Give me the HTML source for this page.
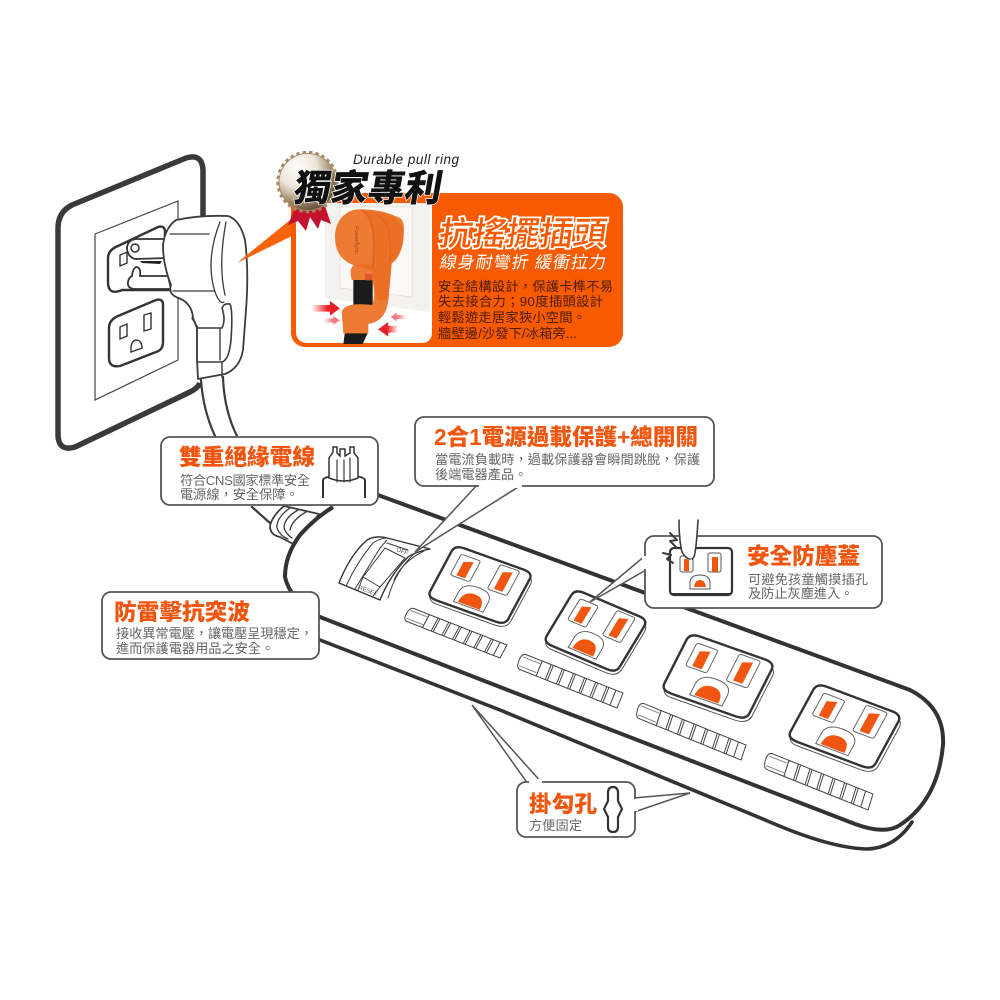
<!DOCTYPE html>
<html lang="zh-Hant">
<head>
<meta charset="utf-8">
<title>抗搖擺插頭 延長線</title>
<style>
html,body{margin:0;padding:0;background:#fff}
svg{display:block}
text{font-family:"Liberation Sans","Noto Sans CJK TC",sans-serif}
.h{font-weight:900;fill:#f0560f;font-size:22.700px}
.d{fill:#666;font-size:13.200px}
.l{fill:none;stroke:#3c3c3c;stroke-linecap:round;stroke-linejoin:round}
.box{fill:#fff;stroke:#555;stroke-width:1.800}
.n{vector-effect:non-scaling-stroke}
</style>
</head>
<body>
<svg width="1000" height="1000" viewBox="0 0 1000 1000" xmlns="http://www.w3.org/2000/svg">
<defs>
<radialGradient id="bd" cx="32%" cy="25%" r="85%">
<stop offset="0" stop-color="#fff"/><stop offset=".4" stop-color="#ece6da"/><stop offset=".72" stop-color="#a08663"/><stop offset="1" stop-color="#4a3a2a"/>
</radialGradient>
<linearGradient id="ar" x1="0" x2="1" y1="0" y2="0"><stop offset="0" stop-color="#ee2a2a" stop-opacity="0"/><stop offset=".55" stop-color="#e8202a"/></linearGradient>
<linearGradient id="al" x1="1" x2="0" y1="0" y2="0"><stop offset="0" stop-color="#ee2a2a" stop-opacity="0"/><stop offset=".55" stop-color="#e8202a"/></linearGradient>
<g id="sock">
<path class="n" d="M14,6 L88,6 Q104,6 104,20 L104,90 Q104,106 88,106 L14,106 Q2,106 2,90 L2,20 Q2,6 14,6Z" fill="#fff" stroke="#555" stroke-width="1"/>
<path class="n" d="M12,0 L88,0 Q100,0 100,12 L100,88 Q100,100 88,100 L12,100 Q0,100 0,88 L0,12 Q0,0 12,0Z" fill="#fff" stroke="#333" stroke-width="2.400"/>
<g fill="#fff" stroke="#666" stroke-width="1">
<rect class="n" x="12" y="11" width="25" height="40" rx="3"/>
<rect class="n" x="60" y="5" width="25" height="47" rx="3"/>
<path class="n" d="M31,92 V74 Q31,55 50,55 Q69,55 69,74 V92Z"/>
</g>
<polygon points="19,22 30,17 30,48 19,48" fill="#f0560f"/>
<polygon points="67,16 78,11 78,48 67,48" fill="#f0560f"/>
<path d="M36,90 Q36,68 50,68 Q64,68 64,90Z" fill="#f0560f"/>
</g>
<g id="bar" fill="#fff" stroke="#444" stroke-width="1">
<path class="n" d="M4,0 L20,0 L20,10 L4,10 Q0,10 0,5 Q0,0 4,0Z"/>
<path class="n" d="M20,0 L100,0 L100,10 L20,10Z"/>
<path class="n" d="M2,2 L19,2M2,8 L19,8" stroke="#888" fill="none"/>
<path class="n" d="M29,0V10M31,0V10M40,0V10M42,0V10M51,0V10M53,0V10M62,0V10M64,0V10M73,0V10M75,0V10M84,0V10M86,0V10M93,0V10" fill="none"/>
</g>
</defs>

<!-- wall plate -->
<path d="M203,216 L203,170 Q202,153 186,158 L72,205 Q58,212 58,228 L58,434 Q58,452 75,447 L190,392 Q198,388 200,383" fill="#fff" stroke="#3a3a3a" stroke-width="5.500" stroke-linejoin="round"/>
<polygon points="95,234 178,201 178,360 95,400" fill="#fff" stroke="#444" stroke-width="1.200"/>
<!-- outlets -->
<path d="M118,246 L158,227 Q165,225 165,232 L165,240 L175,290 L122,290 Q108,296 108,282 L108,258 Q108,250 118,246Z" fill="#fff" stroke="#333" stroke-width="2.400"/>
<path d="M118,316 L156,300 Q163,298 163,305 L163,342 Q163,350 156,352 L120,366 Q109,368 109,358 L109,328 Q109,320 118,316Z" fill="#fff" stroke="#333" stroke-width="2.400"/>
<polygon points="120,327 127,324 127,336 120,339" fill="#fff" stroke="#333" stroke-width="1.400"/>
<polygon points="144,315 151,313 151,329 144,331" fill="#fff" stroke="#333" stroke-width="1.400"/>
<path d="M131,352 V347 Q132,340 137,340 Q142,341 142,348 L131,352Z" fill="#fff" stroke="#333" stroke-width="1.400"/>
<polygon points="120,255 127,252 127,263 120,266" fill="#fff" stroke="#333" stroke-width="1.400"/>
<!-- prongs -->
<path d="M170,239 L136,239 Q127,240 127,249 Q128,257 135,259 L168,258" fill="#fff" stroke="#333" stroke-width="1.800"/>
<circle cx="135" cy="248" r="4" fill="#fff" stroke="#333" stroke-width="1.500"/>
<path d="M140,261 L162,261 L160,264 L142,263Z" fill="#222"/>
<path d="M132,276 Q133,267 137,267 Q141,268 140,276 L168,276 L171,289 L134,289 Q127,288 128,282 Q129,277 132,276Z" fill="#fff" stroke="#333" stroke-width="1.800"/>
<!-- cable -->
<path d="M201,378 Q203,410 215,436 L238,436 Q224,410 223,375Z" fill="#fff"/>
<path class="l" stroke-width="2.200" d="M201,380 Q203,410 215,436M223,377 Q224,410 237,436"/>
<!-- plug -->
<path d="M163,245 Q165,228 176,220 Q200,215 228,216 Q240,220 245,240 Q249,270 246,310 L243,350 Q240,368 225,374 L198,379 L197,360 L197,328 L193,318 Q192,302 176,297 Q168,293 171,285 Q163,265 163,245Z" fill="#fff" stroke="#3c3c3c" stroke-width="1.800" stroke-linejoin="round"/>
<path class="l" stroke-width="1.300" d="M170,234 H209M173,291 H215M220,222 Q205,260 215,292 Q220,305 224,302M226,222 Q218,265 225,295"/>
<path class="l" stroke-width="1.600" d="M192,318 L198,328 L222,328 Q226,320 222,308 Q224,303 230,304 Q233,310 231,340 Q229,360 222,362 L197,362"/>
<path class="l" stroke-width="1.400" d="M197,328 V360M220,328 V360M222,362 V377"/>

<!-- orange pointer -->
<polygon points="237,263 290,220 294,235" fill="#f8620a"/>
<!-- orange panel -->
<rect x="291" y="193" width="332" height="154" rx="14" fill="#f85a00"/>
<path d="M296,205 H432 V332 Q432,343 421,343 H308 Q296,343 296,331Z" fill="#fff"/>
<polygon points="325,203 430,203 430,312 325,298" fill="#f3f2ef"/>
<polygon points="340,207 412,207 412,297 340,288" fill="#faf9f7" stroke="#e2e0dc" stroke-width=".8"/>
<!-- photo plug -->
<g transform="translate(290,200) scale(.3333)">
<polygon points="190,235 248,235 248,320 190,320" fill="#1b1b1b"/>
<polygon points="165,395 235,395 218,432 160,432" fill="#1b1b1b"/>
<path d="M135,110 C135,60 170,25 215,28 C250,28 290,35 320,50 C340,55 345,70 340,120 C335,170 305,185 305,190 L295,300 C290,345 270,365 235,372 L235,400 L160,400 L155,335 C165,312 195,310 245,315 C258,300 250,250 247,240 L185,240 C180,215 180,210 190,195 C150,180 135,150 135,110Z" fill="#ee7a33"/>
<path d="M215,30 C248,45 254,100 250,190 L190,195 L245,210 L250,240 L262,300 L295,300 L305,190 C335,175 340,120 340,90 C335,60 300,42 270,38Z" fill="#e96c22" opacity=".75"/>
<path d="M215,30 C250,50 256,110 248,205" fill="none" stroke="#d9601c" stroke-width="4"/>
<path d="M262,45 C300,65 305,120 300,190" fill="none" stroke="#d9601c" stroke-width="3" opacity=".6"/>
<rect x="225" y="222" width="22" height="20" fill="#d8452a" opacity=".7"/>
<polygon points="65,315 120,315 120,303 150,325 120,347 120,335 65,335" fill="url(#ar)"/>
<polygon points="100,355 130,355 130,348 150,361 130,374 130,367 100,367" fill="url(#ar)" opacity=".6"/>
<polygon points="325,378 295,378 295,366 264,388 295,410 295,398 325,398" fill="url(#al)"/>
<polygon points="348,345 320,345 320,338 302,351 320,364 320,357 348,357" fill="url(#al)" opacity=".6"/>
</g>
<text transform="translate(355,226) rotate(90)" font-size="5.500" fill="#a8461a">PowerSync</text>

<!-- badge -->
<polygon points="295,208 290,220 288,225 298,221 306,231 310,217 318,229 321,220 331,224 325,206" fill="#c4122f"/>
<circle cx="307.500" cy="182" r="29.500" fill="none" stroke="#a58a66" stroke-width="3.400" stroke-dasharray="3.300 3.080"/>
<circle cx="307.500" cy="182" r="28.500" fill="url(#bd)" stroke="#a58a66" stroke-width="1"/>
<text transform="translate(292,201) skewX(-10)" font-size="37" font-weight="900" fill="#111" stroke="#fff" stroke-width="1.400" paint-order="stroke" textLength="148">獨家專利</text>
<text x="353" y="164" font-size="13.500" font-style="italic" fill="#222" textLength="106">Durable pull ring</text>

<text transform="translate(438,245) skewX(-8)" font-size="33" font-weight="500" fill="#f85a00" stroke="#fff" stroke-width="3.600" paint-order="stroke" textLength="167">抗搖擺插頭</text>
<text transform="translate(439,268) skewX(-10)" font-size="17" fill="#fff" textLength="166">線身耐彎折 緩衝拉力</text>
<g font-size="13.300" fill="#4d1c00">
<text x="438" y="291" textLength="175">安全結構設計，保護卡榫不易</text>
<text x="438" y="306" textLength="165">失去接合力；90度插頭設計</text>
<text x="438" y="322" textLength="148">輕鬆遊走居家狹小空間。</text>
<text x="438" y="338" textLength="139">牆壁邊/沙發下/冰箱旁...</text>
</g>

<!-- strip lower shell -->
<path d="M320,640 L500,710 L770,822 Q830,848 867,849 Q895,848 912,822" fill="none" stroke="#333" stroke-width="3.600" stroke-linecap="round"/>
<!-- cord sleeve -->
<path class="l" stroke-width="2.200" d="M252,507 L270,523"/>
<path d="M319,514 L284,506 Q272,516 270,526 Q270,535 280,537 L295,545Z" fill="#fff" stroke="#3c3c3c" stroke-width="1.800" stroke-linejoin="round"/>
<path class="l" stroke-width="1.300" d="M290,508 Q276,518 277,528 Q280,536 288,539M298,510 Q284,518 284,528 Q286,534 292,538M306,512 Q292,520 290,530"/>
<!-- strip body -->
<path d="M378,495 L910,690 Q945,708 943,745 Q938,800 900,825 Q885,835 855,824 L500,687 L320,617 Q290,600 285,577 Q285,555 300,535 Q315,518 333,507" fill="#fff" stroke="#333" stroke-width="4" stroke-linejoin="round"/>

<!-- switch -->
<path d="M339,583 Q350,555 367,540 Q376,535 387,538 L430,549 Q415,552 408,557 Q390,575 380,600Z" fill="#fff" stroke="#333" stroke-width="1.400" stroke-linejoin="round"/>
<path class="l" stroke-width="1" d="M346,586 Q357,562 373,543 Q380,538 387,538M355,589 L380,548 L387,540M385,548 L405,558 L380,587 L363,577Z M363,577 L358,590M380,587 L373,596M415,553 Q396,570 388,598M424,551 Q402,562 394,580M387,543 L408,550"/>
<text transform="translate(396,551) rotate(20)" font-size="6" fill="#555">OFF</text>
<text transform="translate(358,589) rotate(20)" font-size="6" fill="#555">RESET</text>

<!-- sockets -->
<use href="#sock" transform="matrix(.78,.28,-.28,.52,455,545)"/>
<use href="#sock" transform="matrix(.73,.31,-.32,.53,575,589)"/>
<use href="#sock" transform="matrix(.85,.30,-.29,.57,690,633)"/>
<use href="#sock" transform="matrix(.85,.32,-.30,.55,817,683)"/>
<!-- bars -->
<use href="#bar" transform="matrix(.97,.38,-.7,1.300,410,607)"/>
<use href="#bar" transform="matrix(1.010,.40,-.6,1.500,522,653)"/>
<use href="#bar" transform="matrix(1.060,.43,-.5,1.500,640,702)"/>
<use href="#bar" transform="matrix(1.050,.42,-.5,1.600,768,752)"/>

<!-- callout 2合1 -->
<polygon points="478,484 523,484 415,552" fill="#fff" stroke="#555" stroke-width="1.500"/>
<rect class="box" x="415" y="417" width="299" height="69" rx="9"/>
<rect x="479" y="482" width="43" height="6" fill="#fff"/>
<text class="h" x="434" y="445" textLength="264">2合1電源過載保護+總開關</text>
<text class="d" x="435" y="464" textLength="265">當電流負載時，過載保護器會瞬間跳脫，保護</text>
<text class="d" x="435" y="479">後端電器產品。</text>

<!-- callout 雙重 -->
<rect class="box" x="161" y="437" width="217" height="68" rx="9"/>
<text class="h" x="179" y="465" textLength="136">雙重絕緣電線</text>
<text class="d" x="180" y="485" textLength="130">符合CNS國家標準安全</text>
<text class="d" x="180" y="499">電源線，安全保障。</text>
<path d="M323,498 V480 Q324,476 344,475 Q364,476 365,480 V498" fill="#fff" stroke="#333" stroke-width="2"/>
<path d="M329,478 V458 L333,452 V447 H337 V453 L340,456 V449 H345 V456 L350,453 V447 H354 V453 L358,458 V478 Q344,484 329,478Z" fill="#fff" stroke="#333" stroke-width="1.500"/>
<path class="l" stroke-width="1.200" d="M337,460 V482M344,460 V482M350,458 V482"/>

<!-- callout 防雷 -->
<rect class="box" x="102" y="592" width="217" height="67" rx="9"/>
<text class="h" x="114" y="620" textLength="136">防雷擊抗突波</text>
<text class="d" x="116" y="638" textLength="197">接收異常電壓，讓電壓呈現穩定，</text>
<text class="d" x="116" y="653">進而保護電器用品之安全。</text>

<!-- callout 安全 -->
<polygon points="646,555 646,570 590,602" fill="#fff" stroke="#555" stroke-width="1.500"/>
<rect class="box" x="645" y="536" width="237" height="72" rx="9"/>
<rect x="642" y="556" width="6" height="13" fill="#fff"/>
<rect x="670" y="548" width="62" height="47" rx="4" fill="#fff" stroke="#333" stroke-width="2.200"/>
<path d="M671,594 H731" stroke="#333" stroke-width="2"/>
<rect x="680" y="556" width="13" height="16" rx="2" fill="#fff" stroke="#555"/>
<rect x="684" y="559" width="5" height="12" fill="#f0560f"/>
<rect x="708" y="553" width="13" height="19" rx="2" fill="#fff" stroke="#555"/>
<rect x="712" y="557" width="6" height="15" fill="#f0560f"/>
<path d="M690,589 V582 Q691,575 700,575 Q709,575 710,582 V589Z" fill="#fff" stroke="#555"/>
<path d="M694,587 Q695,580 700,580 Q705,580 706,587Z" fill="#f0560f"/>
<path d="M680,530 H697 L695,553 Q693,560 688,560 Q684,556 682,550Z" fill="#fff"/>
<path class="l" stroke-width="1.600" d="M679,520 Q679,540 682,552 Q686,559 690,559M698,520 Q697,540 695,553 Q694,558 692,559"/>
<path class="l" stroke-width="2" d="M670,533 L677,540 L670,541 L677,548M663,553 L671,555 L667,559 L673,563"/>
<text class="h" x="747" y="564" textLength="113">安全防塵蓋</text>
<text class="d" x="748" y="584" textLength="120">可避免孩童觸摸插孔</text>
<text class="d" x="748" y="598">及防止灰塵進入。</text>

<!-- callout 掛勾 -->
<polygon points="528,784 543,784 472,705" fill="#fff" stroke="#555" stroke-width="1.500"/>
<polygon points="634,798 634,812 690,793" fill="#fff" stroke="#555" stroke-width="1.500"/>
<rect class="box" x="517" y="782" width="118" height="55" rx="9"/>
<rect x="529" y="779" width="13" height="6" fill="#fff"/>
<rect x="632" y="799" width="6" height="12" fill="#fff"/>
<text class="h" x="529" y="812" textLength="68">掛勾孔</text>
<text class="d" x="529" y="830" textLength="53">方便固定</text>
<path d="M608,793 Q608,787 613,787 Q618,787 618,793 V801 L622,809 L618,817 V827 Q618,832 613,832 Q608,832 608,827 V817 L604,809 L608,801Z" fill="#fff" stroke="#333" stroke-width="2.200" stroke-linejoin="round"/>
</svg>
</body>
</html>
